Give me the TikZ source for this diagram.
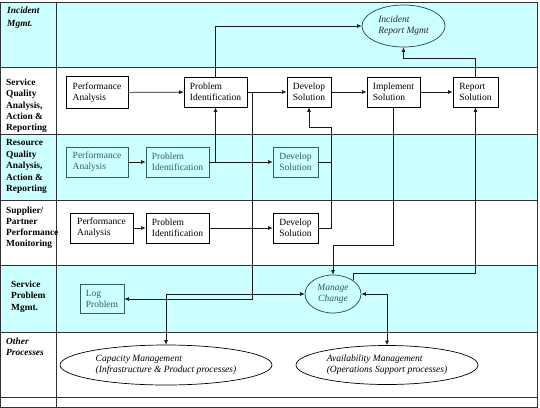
\documentclass[tikz,border=0pt]{standalone}
\usepackage{fontspec}
\setmainfont{Liberation Serif}
\usetikzlibrary{arrows.meta,shapes.geometric}
\definecolor{lanecyan}{RGB}{204,255,255}
\definecolor{tealc}{RGB}{48,96,96}
\definecolor{ellc}{RGB}{30,70,85}
\definecolor{mctext}{RGB}{60,85,85}
\definecolor{irmtext}{RGB}{40,40,55}
\definecolor{gridc}{RGB}{50,50,50}
\begin{document}
\begin{tikzpicture}[x=1pt,y=-1pt,
  lanelbl/.style={anchor=north west, inner sep=0pt, align=left, font=\bfseries\fontsize{9.4}{11.4}\selectfont},
  box/.style={draw=black, line width=0.7pt, align=left, inner sep=1pt, font=\fontsize{9.5}{11}\selectfont},
  tbox/.style={box, draw=tealc, text=tealc},
  ell/.style={ellipse, draw=black, line width=0.7pt, inner sep=0pt, align=left, font=\itshape\fontsize{9.5}{11}\selectfont},
  arr/.style={draw=black!90, line width=0.7pt, -{Latex[length=4.5pt,width=4pt]}},
  arrb/.style={draw=black!90, line width=0.7pt, {Latex[length=4.5pt,width=4pt]}-{Latex[length=4.5pt,width=4pt]}},
  ln/.style={draw=black!90, line width=0.7pt},
  grid/.style={draw=gridc, line width=0.9pt}]
\useasboundingbox (0,0) rectangle (540,407);
% lanes
\fill[lanecyan] (0,2) rectangle (537,67);
\fill[lanecyan] (0,134) rectangle (537,200);
\fill[lanecyan] (0,265) rectangle (537,332);
\draw[grid] (0,2) rectangle (537,407);
\foreach \yy in {67,134,200,265,332,397} \draw[grid] (0,\yy) -- (537,\yy);
\draw[grid] (56,2) -- (56,407);
% lane labels
\node[lanelbl, font=\bfseries\itshape\fontsize{9.4}{12.8}\selectfont] (l1) at (7,6.5) {Incident\\Mgmt.};
\node[lanelbl] (l2) at (6,78.5) {Service\\Quality\\Analysis,\\Action \&\\Reporting};
\node[lanelbl] (l3) at (6,139.5) {Resource\\Quality\\Analysis,\\Action \&\\Reporting};
\node[lanelbl, font=\bfseries\fontsize{9.4}{11}\selectfont] (l4) at (6,206.5) {Supplier/\\Partner\\Performance\\Monitoring};
\node[lanelbl] (l5) at (11,280.5) {Service\\Problem\\Mgmt.};
\node[lanelbl, font=\bfseries\itshape\fontsize{9.4}{11}\selectfont] (l6) at (6,337.5) {Other\\Processes};
% service quality boxes
\node[box, minimum width=62pt, minimum height=32pt] (sqPA) at (97,92.5) {Performance\\Analysis};
\node[box, minimum width=63pt, minimum height=30pt] (sqPI) at (215.5,92) {Problem\\Identification};
\node[box, minimum width=44pt, minimum height=30pt] (sqDS) at (309,92) {Develop\\Solution};
\node[box, minimum width=53pt, minimum height=30pt] (sqIS) at (393.5,92) {Implement\\Solution};
\node[box, minimum width=45pt, minimum height=30pt] (sqRS) at (475.5,92) {Report\\Solution};
% resource boxes
\node[tbox, minimum width=62pt, minimum height=30pt] (rPA) at (97,162) {Performance\\Analysis};
\node[tbox, minimum width=63pt, minimum height=30pt] (rPI) at (177.5,162) {Problem\\Identification};
\node[tbox, minimum width=45pt, minimum height=30pt] (rDS) at (295.5,162) {Develop\\Solution};
% supplier boxes
\node[box, minimum width=63pt, minimum height=30pt] (sPA) at (101.5,228) {Performance\\Analysis};
\node[box, minimum width=63pt, minimum height=30pt] (sPI) at (177.5,228) {Problem\\Identification};
\node[box, minimum width=45pt, minimum height=30pt] (sDS) at (295.5,228) {Develop\\Solution};
% service problem
\node[tbox, minimum width=44pt, minimum height=29pt] (logP) at (102,298.5) {Log\\Problem};
\node[ell, draw=ellc, text=mctext, align=center, minimum width=56pt, minimum height=38pt] (mc) at (333,294) {Manage\\Change};
% incident
\node[ell, draw=ellc, text=irmtext, minimum width=83pt, minimum height=42pt] (irm) at (403.5,26) {Incident\\Report Mgmt};
% other processes
\node[ell, minimum width=212pt, minimum height=40pt] (cap) at (166,365) {Capacity Management\\(Infrastructure \& Product processes)};
\node[ell, minimum width=182pt, minimum height=39pt] (avail) at (387,365) {Availability Management\\(Operations Support processes)};
% coordinates
\coordinate (k1) at (404,58);
\coordinate (j1) at (331,127);
\coordinate (j2) at (333,245);
\coordinate (j3) at (0,273);
\coordinate (j4) at (252,299);
% connectors
\draw[arr] (sqPA) -- (sqPI);
\draw[arr] (sqPI) -- (sqDS);
\draw[arr] (sqDS) -- (sqIS);
\draw[arr] (sqIS) -- (sqRS);
\draw[arr] (sqPI.north) |- (irm.west);
\draw[arr] (sqRS.north) |- (irm.south |- k1) -- (irm.south);
\draw[arr] (rPA) -- (rPI);
\draw[arr] (rPI) -- (rDS);
\draw[arr] (rPI.east -| sqPI.south) -- (sqPI.south);
\draw[arr] (sPA) -- (sPI);
\draw[arr] (sPI) -- (sDS);
\draw[arr] (sDS.east) -| (j1) -| (sqDS.south);
\draw[ln] (rDS.east) -- (rDS.east -| j1);
\draw[arr] (sqIS.south) |- (j2) -- (mc.north);
\draw[arr] (mc.north east) -- (mc.north east |- j3) -| (sqRS.south);
\draw[arr] (sqPI.east) -| (j4) -- (j4 -| logP.east);
\draw[arrb] (mc.west) -| (cap.north);
\draw[arrb] (mc.east) -| (avail.north);
\end{tikzpicture}
\end{document}
